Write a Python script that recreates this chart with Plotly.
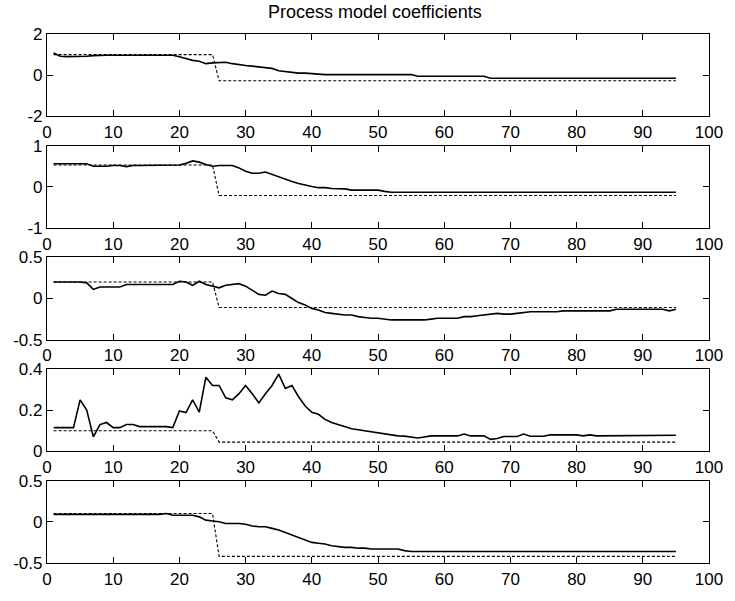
import plotly.graph_objects as go
from plotly.subplots import make_subplots

iterations = list(range(1, 96))

# Panel 1
est_a1 = ([1.08, 0.92, 0.9, 0.9, 0.9, 0.92, 0.95] + [0.97] * 12 +
          [0.9, 0.8, 0.72, 0.68, 0.56, 0.6, 0.63, 0.63, 0.56, 0.5, 0.47, 0.44, 0.4, 0.38,
           0.33, 0.22, 0.17, 0.13, 0.1, 0.1, 0.08] +
          [0.03] * 15 + [-0.05] * 11 + [-0.15] * 29)
true_a1 = [1.0] * 25 + [-0.27] * 70

# Panel 2
est_a2 = ([0.56] * 6 + [0.5] * 3 + [0.52] * 2 + [0.49] + [0.52] * 7 +
          [0.53, 0.57, 0.63, 0.6, 0.54, 0.5, 0.52, 0.52, 0.52, 0.46, 0.38, 0.33, 0.33, 0.36,
           0.3, 0.25, 0.19, 0.13, 0.08, 0.04, 0.01, -0.02, -0.02, -0.04, -0.04, -0.05] +
          [-0.08] * 5 + [-0.11] + [-0.13] * 44)
true_a2 = [0.53] * 25 + [-0.21] * 70

# Panel 3
est_b1 = ([0.2] * 5 + [0.19, 0.11] + [0.14] * 4 + [0.17] + [0.17] * 7 +
          [0.21, 0.2, 0.16, 0.21, 0.17, 0.15, 0.13, 0.16, 0.17, 0.18, 0.15, 0.1, 0.05, 0.04,
           0.09, 0.06, 0.05, 0.0, -0.05, -0.08, -0.12, -0.14, -0.17, -0.18, -0.19, -0.2, -0.2,
           -0.22, -0.23, -0.24, -0.24, -0.25] +
          [-0.26] * 6 + [-0.25] + [-0.24] * 4 +
          [-0.22, -0.22, -0.21, -0.2, -0.19, -0.18, -0.19, -0.19, -0.18, -0.17] +
          [-0.16] * 5 + [-0.15] * 8 + [-0.13] * 8 + [-0.15, -0.13])
true_b1 = [0.2] * 25 + [-0.11] * 70

# Panel 4
est_b2 = ([0.115] * 4 +
          [0.25, 0.2, 0.07, 0.13, 0.14, 0.115, 0.115, 0.13, 0.13] + [0.12] * 5 +
          [0.115, 0.196, 0.188, 0.25, 0.19, 0.36, 0.32, 0.32, 0.26, 0.25, 0.28, 0.32, 0.28,
           0.235, 0.28, 0.32, 0.375, 0.305, 0.32, 0.265, 0.22, 0.19, 0.18, 0.155, 0.14, 0.13,
           0.12, 0.11, 0.105, 0.1, 0.092, 0.09, 0.085, 0.08, 0.075, 0.074, 0.07, 0.065, 0.07,
           0.075] +
          [0.075] * 4 + [0.084] + [0.075] * 3 + [0.058, 0.062] + [0.072] * 3 + [0.084] +
          [0.073] * 3 + [0.08] * 5 + [0.075, 0.08] + [0.075] * 2 + [0.078] * 11)
true_b2 = [0.1] * 25 + [0.045] * 70

# Panel 5
est_c = ([0.09] * 17 + [0.1] + [0.08] * 4 + [0.06, 0.02, 0.01, 0.0] + [-0.02] * 3 +
         [-0.03, -0.05] + [-0.06] * 2 +
         [-0.08, -0.1, -0.13, -0.16, -0.19, -0.22, -0.25, -0.26, -0.27, -0.29, -0.3, -0.31,
          -0.31, -0.32, -0.32] +
         [-0.33] * 5 + [-0.35] + [-0.36] * 41)
true_c = [0.1] * 25 + [-0.42] * 70

estimates = [est_a1, est_a2, est_b1, est_b2, est_c]
truths = [true_a1, true_a2, true_b1, true_b2, true_c]
y_ranges = [[-2, 2], [-1, 1], [-0.5, 0.5], [0, 0.4], [-0.5, 0.5]]
y_ticks = [[-2, 0, 2], [-1, 0, 1], [-0.5, 0, 0.5], [0, 0.2, 0.4], [-0.5, 0, 0.5]]
y_ticktext = [["-2", "0", "2"], ["-1", "0", "1"], ["-0.5", "0", "0.5"],
              ["0", "0.2", "0.4"], ["-0.5", "0", "0.5"]]
x_ticks = list(range(0, 101, 10))
title_text = "Process model coefficients"

FONT = "Liberation Sans, Arial, Helvetica, sans-serif"

fig = make_subplots(rows=5, cols=1, vertical_spacing=0.0553)

for i in range(5):
    r = i + 1
    fig.add_trace(go.Scatter(x=iterations, y=truths[i], mode="lines",
                             line=dict(color="black", width=1.1, dash="3px,2px"),
                             showlegend=False, hoverinfo="skip"), row=r, col=1)
    fig.add_trace(go.Scatter(x=iterations, y=estimates[i], mode="lines",
                             line=dict(color="black", width=1.6),
                             showlegend=False), row=r, col=1)
    fig.update_xaxes(range=[0, 100], tickvals=x_ticks, ticks="inside", ticklen=6,
                     showline=True, mirror="ticks", linecolor="black", linewidth=1.2,
                     tickcolor="black", showgrid=False, zeroline=False,
                     tickfont=dict(family=FONT, size=17, color="black"), row=r, col=1)
    fig.update_yaxes(range=y_ranges[i], tickvals=y_ticks[i], ticktext=y_ticktext[i],
                     ticks="inside", ticklen=6,
                     showline=True, mirror="ticks", linecolor="black", linewidth=1.2,
                     tickcolor="black", showgrid=False, zeroline=False,
                     tickfont=dict(family=FONT, size=17, color="black"), row=r, col=1)

fig.update_layout(
    width=735, height=601,
    margin=dict(l=47, r=21, t=34, b=34),
    paper_bgcolor="white", plot_bgcolor="white",
    title=dict(text=title_text, x=0.51, xanchor="center", y=1 - 12 / 601,
               yanchor="middle", yref="container",
               font=dict(family=FONT, size=18, color="black")),
    showlegend=False,
)

fig.write_html("out.html")
